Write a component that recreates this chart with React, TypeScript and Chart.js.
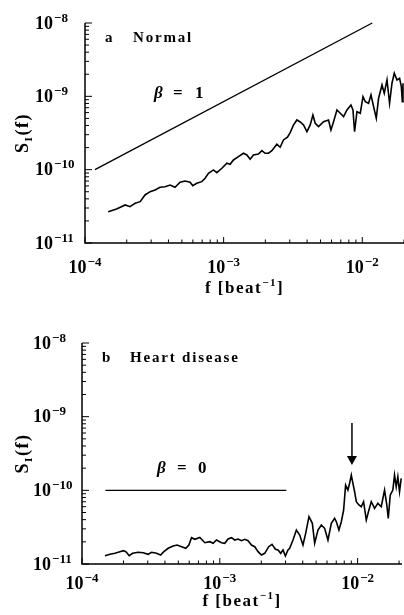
import React, { useEffect, useRef } from "react";
import { Chart, registerables } from "chart.js";
Chart.register(...registerables);

// ---------- Panel a: Normal ----------
const freqA = [
  1.47e-4, 1.69e-4, 1.95e-4, 2.11e-4, 2.30e-4, 2.50e-4, 2.71e-4, 2.95e-4, 3.20e-4, 3.48e-4,
  3.78e-4, 4.11e-4, 4.46e-4, 4.85e-4, 5.27e-4, 5.73e-4, 5.99e-4, 6.40e-4, 6.96e-4, 7.35e-4,
  7.77e-4, 8.44e-4, 8.93e-4, 9.71e-4, 1.055e-3, 1.114e-3, 1.177e-3, 1.279e-3, 1.390e-3, 1.471e-3,
  1.553e-3, 1.641e-3, 1.783e-3, 1.887e-3, 1.993e-3, 2.106e-3, 2.228e-3, 2.421e-3, 2.557e-3, 2.702e-3,
  2.887e-3, 3.020e-3, 3.192e-3, 3.377e-3, 3.567e-3, 3.769e-3, 3.987e-3, 4.212e-3, 4.406e-3, 4.577e-3,
  4.836e-3, 5.255e-3, 5.710e-3, 5.943e-3, 6.206e-3, 6.566e-3, 6.938e-3, 7.328e-3, 7.753e-3, 8.286e-3,
  8.567e-3, 8.797e-3, 9.158e-3, 9.674e-3, 1.012e-2, 1.051e-2, 1.110e-2, 1.156e-2, 1.207e-2, 1.262e-2,
  1.311e-2, 1.388e-2, 1.441e-2, 1.508e-2, 1.574e-2, 1.638e-2, 1.702e-2, 1.780e-2, 1.859e-2, 1.913e-2,
  1.945e-2, 1.967e-2,
];
const specA = [
  2.67e-11, 2.91e-11, 3.30e-11, 3.13e-11, 3.48e-11, 3.66e-11, 4.52e-11, 5.01e-11, 5.28e-11, 5.75e-11,
  5.86e-11, 6.18e-11, 5.75e-11, 6.73e-11, 7.01e-11, 6.73e-11, 6.05e-11, 6.52e-11, 6.86e-11, 7.63e-11,
  8.93e-11, 9.91e-11, 9.10e-11, 1.045e-10, 1.223e-10, 1.185e-10, 1.356e-10, 1.504e-10, 1.674e-10, 1.586e-10,
  1.387e-10, 1.586e-10, 1.637e-10, 1.816e-10, 1.674e-10, 1.674e-10, 1.816e-10, 2.221e-10, 2.021e-10, 2.542e-10,
  2.767e-10, 3.197e-10, 4.072e-10, 4.764e-10, 4.475e-10, 4.072e-10, 3.299e-10, 4.072e-10, 5.574e-10, 4.295e-10,
  3.861e-10, 4.516e-10, 4.764e-10, 3.480e-10, 4.516e-10, 6.52e-10, 5.88e-10, 5.29e-10, 6.52e-10, 7.63e-10,
  6.52e-10, 3.299e-10, 6.18e-10, 5.88e-10, 9.91e-10, 8.47e-10, 8.05e-10, 1.045e-9, 7.24e-10, 5.03e-10,
  9.42e-10, 1.430e-9, 1.102e-9, 1.674e-9, 8.05e-10, 1.509e-9, 2.066e-9, 1.674e-9, 1.766e-9, 1.356e-9,
  8.47e-10, 1.509e-9,
];
const beta1Freq = [1.18e-4, 1.18e-2];
const beta1Spec = [1e-10, 1e-8];

// ---------- Panel b: Heart disease ----------
const freqB = [
  1.468e-4, 1.595e-4, 1.734e-4, 1.885e-4, 1.992e-4, 2.083e-4, 2.202e-4, 2.330e-4, 2.559e-4, 2.781e-4,
  3.022e-4, 3.199e-4, 3.477e-4, 3.717e-4, 3.927e-4, 4.219e-4, 4.587e-4, 4.903e-4, 5.280e-4, 5.670e-4,
  5.963e-4, 6.236e-4, 6.589e-4, 7.163e-4, 7.786e-4, 8.463e-4, 8.941e-4, 9.465e-4, 1.029e-3, 1.087e-3,
  1.148e-3, 1.216e-3, 1.284e-3, 1.357e-3, 1.436e-3, 1.518e-3, 1.603e-3, 1.697e-3, 1.793e-3, 1.895e-3,
  2.006e-3, 2.119e-3, 2.265e-3, 2.393e-3, 2.532e-3, 2.645e-3, 2.767e-3, 2.875e-3, 2.993e-3, 3.125e-3,
  3.214e-3, 3.398e-3, 3.596e-3, 3.799e-3, 4.014e-3, 4.199e-3, 4.437e-3, 4.695e-3, 4.880e-3, 5.157e-3,
  5.458e-3, 5.766e-3, 6.093e-3, 6.448e-3, 6.813e-3, 7.011e-3, 7.320e-3, 7.619e-3, 7.918e-3, 8.185e-3,
  8.505e-3, 8.750e-3, 9.001e-3, 9.246e-3, 9.513e-3, 9.786e-3, 1.022e-2, 1.063e-2, 1.105e-2, 1.156e-2,
  1.208e-2, 1.257e-2, 1.328e-2, 1.403e-2, 1.485e-2, 1.569e-2, 1.630e-2, 1.669e-2, 1.726e-2, 1.802e-2,
  1.853e-2, 1.907e-2, 1.959e-2, 2.015e-2, 2.073e-2,
];
const specB = [
  1.296e-11, 1.354e-11, 1.397e-11, 1.469e-11, 1.515e-11, 1.469e-11, 1.296e-11, 1.397e-11, 1.441e-11, 1.423e-11,
  1.354e-11, 1.441e-11, 1.397e-11, 1.325e-11, 1.469e-11, 1.633e-11, 1.755e-11, 1.811e-11, 1.717e-11, 1.633e-11,
  1.811e-11, 2.275e-11, 2.163e-11, 2.289e-11, 1.945e-11, 2.007e-11, 1.909e-11, 2.117e-11, 1.945e-11, 1.909e-11,
  2.184e-11, 2.275e-11, 2.117e-11, 2.184e-11, 2.071e-11, 2.163e-11, 2.071e-11, 1.811e-11, 1.717e-11, 1.469e-11,
  1.325e-11, 1.397e-11, 1.717e-11, 1.851e-11, 1.585e-11, 1.549e-11, 1.397e-11, 1.549e-11, 1.284e-11, 1.549e-11,
  1.633e-11, 2.117e-11, 2.892e-11, 2.474e-11, 1.811e-11, 2.610e-11, 4.384e-11, 3.566e-11, 1.909e-11, 2.892e-11,
  3.382e-11, 3.050e-11, 2.117e-11, 3.566e-11, 4.170e-11, 3.750e-11, 2.892e-11, 3.750e-11, 5.404e-11, 1.180e-10,
  1.009e-10, 1.245e-10, 1.613e-10, 1.245e-10, 9.57e-11, 7.00e-11, 6.32e-11, 5.99e-11, 7.00e-11, 3.95e-11,
  5.40e-11, 7.00e-11, 5.70e-11, 6.66e-11, 5.99e-11, 1.009e-10, 6.32e-11, 4.17e-11, 8.63e-11, 1.009e-10,
  1.613e-10, 1.119e-10, 1.530e-10, 9.57e-11, 1.455e-10,
];
const beta0Freq = [1.48e-4, 3.04e-3];
const beta0Spec = [1e-10, 1e-10];

// arrow marking the peak in panel b
const arrowFreq = 9.1e-3;
const arrowTopSpec = 8.2e-10;
const arrowTipSpec = 2.2e-10;

// ---------- axes ----------
const yTickExps = [-11, -10, -9, -8];
const xTickExps = [-4, -3, -2];
const minorMults = [2, 3, 4, 5, 6, 7, 8, 9];
const xTitleMain = "f [beat";
const xTitleSup = "\u22121";
const xTitleEnd = "]";
const yTitleMain = "S";
const yTitleSub = "I";
const yTitleEnd = "(f)";

const SERIF = "'Liberation Serif', 'DejaVu Serif', serif";

type PanelCfg = {
  letter: string;
  name: string;
  betaValue: string;
  freq: number[];
  spec: number[];
  refFreq: number[];
  refSpec: number[];
  xMax: number;
  padding: { left: number; top: number; right: number; bottom: number };
  height: number;
  yLabelX: number;
  xLabelBase: number;
  xTitleBase: number;
  yTitleX: number;
  letterPos: [number, number];
  nameX: number;
  betaPos: [number, number];
  eqX: number;
  valX: number;
  arrow: boolean;
};

function drawPower(ctx: CanvasRenderingContext2D, exp: number, x: number, y: number, center: boolean) {
  const base = "10";
  const sup = "\u2212" + Math.abs(exp);
  ctx.font = `bold 18px ${SERIF}`;
  const wb = ctx.measureText(base).width;
  ctx.font = `bold 13px ${SERIF}`;
  const ws = ctx.measureText(sup).width;
  const x0 = center ? x - (wb + 1 + ws) / 2 : x;
  ctx.font = `bold 18px ${SERIF}`;
  ctx.fillText(base, x0, y);
  ctx.font = `bold 13px ${SERIF}`;
  ctx.fillText(sup, x0 + wb + 1, y - 7);
}

function makePlugin(cfg: PanelCfg) {
  return {
    id: "paperAxes",
    afterDraw(chart: any) {
      const ctx: CanvasRenderingContext2D = chart.ctx;
      const xs = chart.scales.x;
      const ys = chart.scales.y;
      const a = chart.chartArea;
      ctx.save();
      ctx.strokeStyle = "#000";
      ctx.fillStyle = "#000";
      ctx.textAlign = "left";
      ctx.textBaseline = "alphabetic";
      (ctx as any).letterSpacing = "0px";

      // axis lines
      ctx.lineWidth = 1.5;
      ctx.beginPath();
      ctx.moveTo(a.left, a.top);
      ctx.lineTo(a.left, a.bottom);
      ctx.lineTo(a.right, a.bottom);
      ctx.stroke();

      // y ticks (inward)
      ctx.lineWidth = 1;
      const yMaxExp = yTickExps[yTickExps.length - 1];
      yTickExps.forEach((e) => {
        const py = ys.getPixelForValue(Math.pow(10, e));
        ctx.beginPath();
        ctx.moveTo(a.left, py);
        ctx.lineTo(a.left + 7, py);
        ctx.stroke();
        if (e < yMaxExp) {
          minorMults.forEach((m) => {
            const p = ys.getPixelForValue(m * Math.pow(10, e));
            ctx.beginPath();
            ctx.moveTo(a.left, p);
            ctx.lineTo(a.left + 4, p);
            ctx.stroke();
          });
        }
        drawPower(ctx, e, cfg.yLabelX, py + 5.5, false);
      });

      // x ticks (inward)
      xTickExps.forEach((e) => {
        const px = xs.getPixelForValue(Math.pow(10, e));
        ctx.beginPath();
        ctx.moveTo(px, a.bottom);
        ctx.lineTo(px, a.bottom - 6);
        ctx.stroke();
        minorMults.forEach((m) => {
          const v = m * Math.pow(10, e);
          if (v > cfg.xMax) return;
          const p = xs.getPixelForValue(v);
          ctx.beginPath();
          ctx.moveTo(p, a.bottom);
          ctx.lineTo(p, a.bottom - 3.5);
          ctx.stroke();
        });
        drawPower(ctx, e, px, cfg.xLabelBase, true);
      });

      // x title
      (ctx as any).letterSpacing = "1.5px";
      ctx.font = `bold 17px ${SERIF}`;
      const w1 = ctx.measureText(xTitleMain).width;
      const w3 = ctx.measureText(xTitleEnd).width;
      ctx.font = `bold 11px ${SERIF}`;
      const w2 = ctx.measureText(xTitleSup).width;
      const cx = (a.left + a.right) / 2;
      const x0 = cx - (w1 + w2 + w3) / 2;
      ctx.font = `bold 17px ${SERIF}`;
      ctx.fillText(xTitleMain, x0, cfg.xTitleBase);
      ctx.font = `bold 11px ${SERIF}`;
      ctx.fillText(xTitleSup, x0 + w1, cfg.xTitleBase - 7);
      ctx.font = `bold 17px ${SERIF}`;
      ctx.fillText(xTitleEnd, x0 + w1 + w2, cfg.xTitleBase);

      // y title (rotated)
      ctx.save();
      ctx.translate(cfg.yTitleX, (a.top + a.bottom) / 2);
      ctx.rotate(-Math.PI / 2);
      ctx.font = `bold 18px ${SERIF}`;
      const s1 = ctx.measureText(yTitleMain).width;
      const s3 = ctx.measureText(yTitleEnd).width;
      ctx.font = `bold 11px ${SERIF}`;
      const s2 = ctx.measureText(yTitleSub).width;
      const y0 = -(s1 + s2 + s3) / 2;
      ctx.font = `bold 18px ${SERIF}`;
      ctx.fillText(yTitleMain, y0, 0);
      ctx.font = `bold 11px ${SERIF}`;
      ctx.fillText(yTitleSub, y0 + s1, 4);
      ctx.font = `bold 18px ${SERIF}`;
      ctx.fillText(yTitleEnd, y0 + s1 + s2, 0);
      ctx.restore();

      // panel label
      (ctx as any).letterSpacing = "1.8px";
      ctx.font = `bold 15px ${SERIF}`;
      ctx.fillText(cfg.letter, cfg.letterPos[0], cfg.letterPos[1]);
      ctx.fillText(cfg.name, cfg.nameX, cfg.letterPos[1]);

      // beta annotation
      (ctx as any).letterSpacing = "0px";
      ctx.font = `italic bold 17px ${SERIF}`;
      ctx.fillText("\u03B2", cfg.betaPos[0], cfg.betaPos[1]);
      ctx.font = `bold 17px ${SERIF}`;
      ctx.fillText("=", cfg.eqX, cfg.betaPos[1]);
      ctx.fillText(cfg.betaValue, cfg.valX, cfg.betaPos[1]);

      // arrow
      if (cfg.arrow) {
        const ax = xs.getPixelForValue(arrowFreq);
        const top = ys.getPixelForValue(arrowTopSpec);
        const tip = ys.getPixelForValue(arrowTipSpec);
        ctx.lineWidth = 1.5;
        ctx.beginPath();
        ctx.moveTo(ax, top);
        ctx.lineTo(ax, tip - 8);
        ctx.stroke();
        ctx.beginPath();
        ctx.moveTo(ax - 5, tip - 9);
        ctx.lineTo(ax + 5, tip - 9);
        ctx.lineTo(ax, tip);
        ctx.closePath();
        ctx.fill();
      }
      ctx.restore();
    },
  };
}

function Panel({ cfg, top }: { cfg: PanelCfg; top: number }) {
  const ref = useRef<HTMLCanvasElement | null>(null);
  useEffect(() => {
    if (!ref.current) return;
    const chart = new Chart(ref.current, {
      type: "line",
      data: {
        datasets: [
          {
            data: cfg.freq.map((f, i) => ({ x: f, y: cfg.spec[i] })),
            borderColor: "#000",
            borderWidth: 1.6,
            pointRadius: 0,
            tension: 0,
            clip: false as any,
          },
          {
            data: cfg.refFreq.map((f, i) => ({ x: f, y: cfg.refSpec[i] })),
            borderColor: "#000",
            borderWidth: 1.4,
            pointRadius: 0,
            tension: 0,
            clip: false as any,
          },
        ],
      },
      options: {
        responsive: false,
        animation: false,
        devicePixelRatio: 1,
        events: [],
        layout: { padding: cfg.padding },
        plugins: { legend: { display: false }, tooltip: { enabled: false } },
        scales: {
          x: { type: "logarithmic", min: 1e-4, max: cfg.xMax, display: false },
          y: { type: "logarithmic", min: 1e-11, max: 1e-8, display: false },
        },
      },
      plugins: [makePlugin(cfg)],
    } as any);
    return () => chart.destroy();
  }, [cfg]);
  return (
    <canvas
      ref={ref}
      width={404}
      height={cfg.height}
      style={{ position: "absolute", left: 0, top, width: 404, height: cfg.height, display: "block" }}
    />
  );
}

const panelA: PanelCfg = {
  letter: "a",
  name: "Normal",
  betaValue: "1",
  freq: freqA,
  spec: specA,
  refFreq: beta1Freq,
  refSpec: beta1Spec,
  xMax: 0.02,
  padding: { left: 85, top: 23, right: 0, bottom: 57 },
  height: 300,
  yLabelX: 35,
  xLabelBase: 273,
  xTitleBase: 293,
  yTitleX: 28,
  letterPos: [105, 42],
  nameX: 133,
  betaPos: [154, 98],
  eqX: 173,
  valX: 195,
  arrow: false,
};

const panelB: PanelCfg = {
  letter: "b",
  name: "Heart disease",
  betaValue: "0",
  freq: freqB,
  spec: specB,
  refFreq: beta0Freq,
  refSpec: beta0Spec,
  xMax: 0.021,
  padding: { left: 82, top: 43, right: 2, bottom: 51 },
  height: 315,
  yLabelX: 33,
  xLabelBase: 289,
  xTitleBase: 306,
  yTitleX: 28,
  letterPos: [102, 62],
  nameX: 130,
  betaPos: [157, 173],
  eqX: 177,
  valX: 198,
  arrow: true,
};

export default function App() {
  return (
    <div style={{ position: "absolute", left: 0, top: 0, width: 404, height: 615, background: "#fff", overflow: "hidden" }}>
      <Panel cfg={panelA} top={0} />
      <Panel cfg={panelB} top={300} />
    </div>
  );
}
